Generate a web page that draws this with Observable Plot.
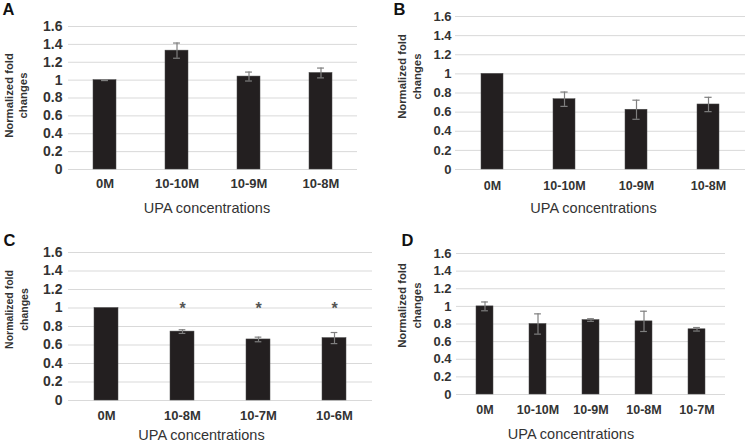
<!DOCTYPE html>
<html>
<head>
<meta charset="utf-8">
<script src="https://cdn.jsdelivr.net/npm/d3@7"></script>
<script src="https://cdn.jsdelivr.net/npm/@observablehq/plot@0.6"></script>
<style>
  html, body { margin: 0; padding: 0; background: #fff; }
  #wrap { position: relative; width: 746px; height: 443px; overflow: hidden; font-family: "Liberation Sans", Arial, sans-serif; }
  .panel { position: absolute; }
</style>
</head>
<body>
<div id="wrap">
  <div class="panel" id="pA" style="left:0px;top:0px"></div>
  <div class="panel" id="pB" style="left:373px;top:0px"></div>
  <div class="panel" id="pC" style="left:0px;top:221px"></div>
  <div class="panel" id="pD" style="left:373px;top:221px"></div>
</div>
<script>
// ---- data ----
const yTicks = [0, 0.2, 0.4, 0.6, 0.8, 1.0, 1.2, 1.4, 1.6];
const yLabel = "Normalized fold\nchanges";
const xLabel = "UPA concentrations";

const catsA = ["0M", "10-10M", "10-9M", "10-8M"];
const valsA = [1.00, 1.33, 1.04, 1.08];
const errsA = [0.005, 0.085, 0.05, 0.055];

const catsB = ["0M", "10-10M", "10-9M", "10-8M"];
const valsB = [1.00, 0.735, 0.625, 0.68];
const errsB = [0.0, 0.075, 0.10, 0.075];

const catsC = ["0M", "10-8M", "10-7M", "10-6M"];
const valsC = [1.00, 0.745, 0.66, 0.675];
const errsC = [0.0, 0.02, 0.025, 0.06];
const sigC = ["", "*", "*", "*"];
const sigLevel = 1.05;

const catsD = ["0M", "10-10M", "10-9M", "10-8M", "10-7M"];
const valsD = [1.00, 0.80, 0.845, 0.83, 0.74];
const errsD = [0.05, 0.115, 0.015, 0.115, 0.02];

// ---- drawing ----
const textColor = "#333333";
const fmt = d => String(+d.toFixed(1));

function panel(o) {
  const data = o.cats.map((c, i) => ({cat: c, v: o.vals[i], e: o.errs[i], s: o.sig ? o.sig[i] : ""}));
  const frameW = o.width - o.ml - o.mr;
  const frameH = o.height - o.mt - o.mb;
  const step = frameW / o.cats.length;
  const bw = step * (1 - o.pad);
  const capInset = Math.max(0, (bw - 7) / 2);
  const marks = [
    Plot.ruleY(yTicks, {stroke: "#d9d9d9", strokeWidth: 1}),
    Plot.barY(data, {x: "cat", y: "v", fill: "#231f20", stroke: "#4a4a4a", strokeWidth: 0.5}),
    Plot.ruleX(data.filter(d => d.e > 0), {x: "cat", y1: d => d.v - d.e, y2: d => d.v + d.e, stroke: "#7f7f7f", strokeWidth: 1.2}),
    Plot.tickY(data.filter(d => d.e > 0), {x: "cat", y: d => d.v + d.e, stroke: "#7f7f7f", strokeWidth: 1.2, insetLeft: capInset, insetRight: capInset}),
    Plot.tickY(data.filter(d => d.e > 0), {x: "cat", y: d => d.v - d.e, stroke: "#7f7f7f", strokeWidth: 1.2, insetLeft: capInset, insetRight: capInset}),
    Plot.axisY({ticks: yTicks, tickSize: 0, tickPadding: o.yTickPad, tickFormat: fmt, fontSize: o.yfs, fontWeight: "bold", label: null, fill: textColor}),
    Plot.axisX({tickSize: 0, tickPadding: o.xTickPad, fontSize: o.fs, fontWeight: "bold", label: null, fill: textColor}),
    // x title
    Plot.text([xLabel], {frameAnchor: "bottom", text: d => d, dx: o.titleDx, dy: o.titleDy, lineAnchor: "middle", fontSize: 14.5, fill: textColor}),
    // y title (two lines, rotated)
    Plot.text([yLabel], {frameAnchor: "left", text: d => d, rotate: -90, textAnchor: "middle", lineAnchor: "middle",
      dx: o.yLabX - o.ml, dy: o.yLabY - (o.mt + frameH / 2), fontSize: o.yLabFs, fontWeight: "bold", lineHeight: o.yLabLh, fill: textColor}),
    // panel letter
    Plot.text([o.letter], {frameAnchor: "top-left", text: d => d, textAnchor: "start", lineAnchor: "top",
      dx: o.letX - o.ml, dy: o.letY - o.mt, fontSize: 16.5, fontWeight: "bold", fill: "#111"})
  ];
  if (o.sig) {
    marks.push(Plot.text(data.filter(d => d.s), {x: "cat", y: () => sigLevel, text: "s", fontSize: 16, fontWeight: "bold", fill: "#555", lineAnchor: "middle", dy: 5}));
  }
  return Plot.plot({
    width: o.width, height: o.height,
    marginTop: o.mt, marginBottom: o.mb, marginLeft: o.ml, marginRight: o.mr,
    style: {fontFamily: '"Liberation Sans", Arial, sans-serif', background: "#fff", color: textColor, overflow: "visible"},
    x: {type: "band", domain: o.cats, paddingInner: o.pad, paddingOuter: o.pad / 2, align: 0.5},
    y: {domain: [0, 1.6]},
    marks
  });
}

document.getElementById("pA").appendChild(panel({
  cats: catsA, vals: valsA, errs: errsA, letter: "A",
  width: 373, height: 221, mt: 26, mb: 52, ml: 68, mr: 16, pad: 0.68,
  fs: 13, yfs: 14, yTickPad: 6, xTickPad: 9.5, titleDx: -6, titleDy: 39,
  yLabX: 15, yLabY: 95, yLabFs: 11.3, yLabLh: 1.24, letX: 2, letY: 3
}));
document.getElementById("pB").appendChild(panel({
  cats: catsB, vals: valsB, errs: errsB, letter: "B",
  width: 373, height: 221, mt: 16, mb: 52, ml: 82, mr: 1, pad: 0.70,
  fs: 12.5, yfs: 13, yTickPad: 4, xTickPad: 11.5, titleDx: -7, titleDy: 39,
  yLabX: 35.5, yLabY: 76, yLabFs: 11.3, yLabLh: 1.33, letX: 20, letY: 3
}));
document.getElementById("pC").appendChild(panel({
  cats: catsC, vals: valsC, errs: errsC, sig: sigC, letter: "C",
  width: 373, height: 222, mt: 31, mb: 43, ml: 68, mr: 1, pad: 0.68,
  fs: 13, yfs: 14, yTickPad: 6, xTickPad: 10.5, titleDx: -19, titleDy: 35,
  yLabX: 15.5, yLabY: 88, yLabFs: 10.5, yLabLh: 1.4, letX: 3, letY: 13
}));
document.getElementById("pD").appendChild(panel({
  cats: catsD, vals: valsD, errs: errsD, letter: "D",
  width: 373, height: 222, mt: 32, mb: 49, ml: 83, mr: 21, pad: 0.68,
  fs: 12.5, yfs: 13, yTickPad: 5, xTickPad: 10.7, titleDx: -20, titleDy: 40,
  yLabX: 35.5, yLabY: 84, yLabFs: 11.3, yLabLh: 1.33, letX: 28, letY: 13
}));
</script>
</body>
</html>
